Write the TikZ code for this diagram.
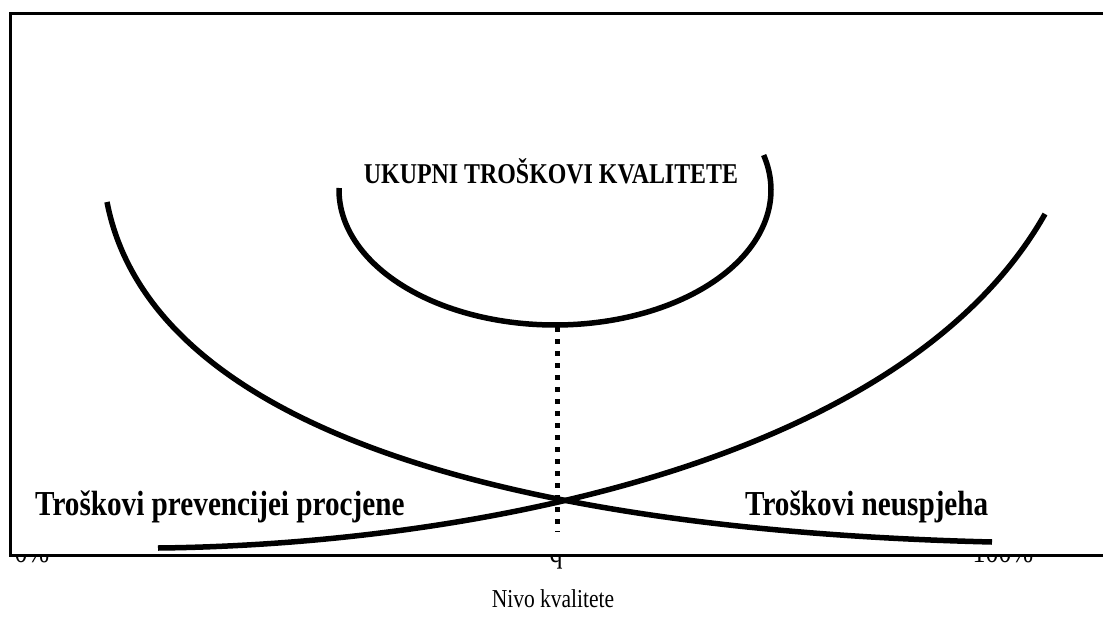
\documentclass[tikz,border=0pt]{standalone}
\usepackage{fontspec}
\setmainfont{Liberation Serif}
\newcommand{\tallt}[1]{\scalebox{1}[1.2]{#1}}
\begin{document}
\begin{tikzpicture}[x=1pt,y=-1pt,
  frame/.style={line width=3pt},
  curve/.style={line width=5.5pt},
  lbl/.style={inner sep=0pt, font=\fontsize{29.2}{31}\selectfont\bfseries},
  axlbl/.style={inner sep=0pt, anchor=base, font=\fontsize{26}{28}\selectfont}]
\useasboundingbox (0,0) rectangle (1103,637);
% frame
\draw[frame] (1103,13.5) -- (10.5,13.5) -- (10.5,555) -- (1103,555);
% clipped axis labels
\begin{scope}
  \clip (0,557) rectangle (1103,637);
  \node[axlbl] (p0) at (32,562) {\tallt{0\%}};
  \node[axlbl] (pq) at (556,562) {\tallt{q}};
  \node[axlbl] (p100) at (1003,562) {\tallt{100\%}};
\end{scope}
% total cost U curve
\draw[curve] plot[domain=180.85:-15, samples=120] ({555+216*cos(\x)}, {190+135*sin(\x)});
% decreasing curve
\draw[curve] (107,202) .. controls (150,425) and (500,530) .. (992,542);
% increasing curve
\draw[curve] (158,548) .. controls (450,545) and (900,470) .. (1045,214);
% dotted vertical
\draw[line width=5pt, dash pattern=on 5pt off 7pt] (557,327) -- (557,532);
% labels
\node[inner sep=0pt, anchor=base, font=\fontsize{23.9}{25}\selectfont\bfseries] (total) at (551,183) {\tallt{UKUPNI TROŠKOVI KVALITETE}};
\node[lbl, anchor=base west] (prev) at (35,515) {\tallt{Troškovi prevencijei procjene}};
\node[lbl, anchor=base west] (fail) at (745,515) {\tallt{Troškovi neuspjeha}};
\node[inner sep=0pt, anchor=base, font=\fontsize{21.5}{23}\selectfont] (axis) at (553,607) {\tallt{Nivo kvalitete}};
\end{tikzpicture}
\end{document}
